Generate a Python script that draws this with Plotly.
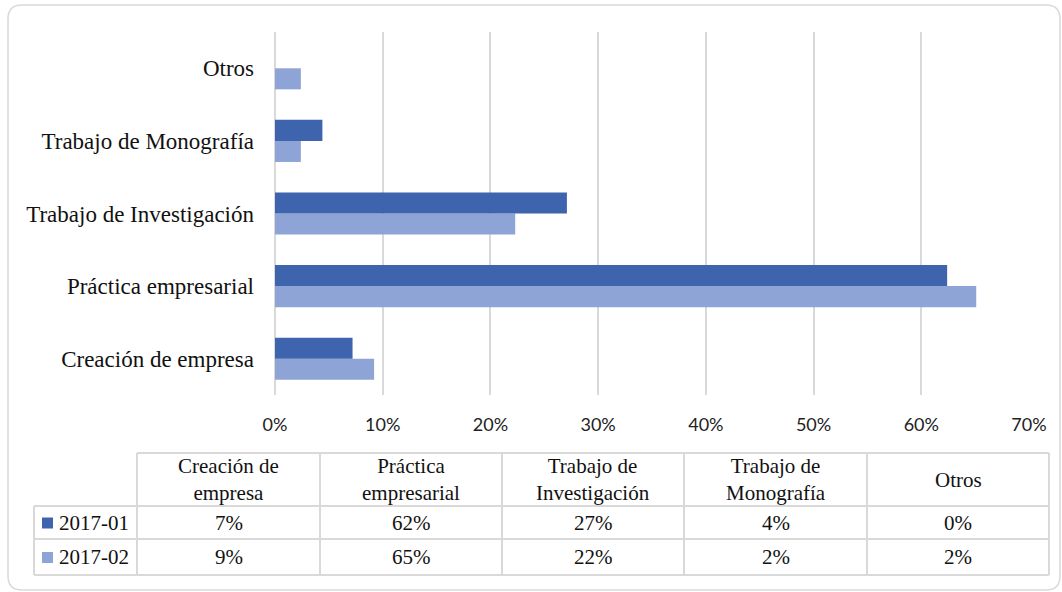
import plotly.graph_objects as go

categories = ["Creación de empresa", "Práctica empresarial", "Trabajo de Investigación",
              "Trabajo de Monografía", "Otros"]
header_labels = ["Creación de<br>empresa", "Práctica<br>empresarial", "Trabajo de<br>Investigación",
                 "Trabajo de<br>Monografía", "Otros"]
series_names = ["2017-01", "2017-02"]
values_2017_01 = [0.072, 0.624, 0.271, 0.044, 0.0]
values_2017_02 = [0.092, 0.651, 0.223, 0.024, 0.024]
tick_vals = [0, 0.1, 0.2, 0.3, 0.4, 0.5, 0.6, 0.7]
tick_text = ["0%", "10%", "20%", "30%", "40%", "50%", "60%", "70%"]

C1 = "#3D64AD"
C2 = "#8FA4D6"
GRID = "#d9d9d9"

W, H = 1062, 592
L, R, T, B = 275, 1029, 32, 395


def px(x):
    return (x - L) / (R - L)


def py(y):
    return (B - y) / (B - T)


fig = go.Figure()
fig.add_trace(go.Bar(y=categories, x=values_2017_02, name=series_names[1], orientation="h",
                     marker=dict(color=C2, line=dict(width=0))))
fig.add_trace(go.Bar(y=categories, x=values_2017_01, name=series_names[0], orientation="h",
                     marker=dict(color=C1, line=dict(width=0))))

shapes = []
annotations = []

# rounded outer border
x0, x1, y0, y1, r = 8, 1060, 5, 590, 14
path = (f"M {px(x0 + r)},{py(y0)} L {px(x1 - r)},{py(y0)} Q {px(x1)},{py(y0)} {px(x1)},{py(y0 + r)} "
        f"L {px(x1)},{py(y1 - r)} Q {px(x1)},{py(y1)} {px(x1 - r)},{py(y1)} "
        f"L {px(x0 + r)},{py(y1)} Q {px(x0)},{py(y1)} {px(x0)},{py(y1 - r)} "
        f"L {px(x0)},{py(y0 + r)} Q {px(x0)},{py(y0)} {px(x0 + r)},{py(y0)} Z")
shapes.append(dict(type="path", xref="paper", yref="paper", path=path,
                   line=dict(color=GRID, width=1.5), layer="below"))

# data table
col_edges = [137, 320, 502, 684, 867, 1049]
leg_x0 = 34
row_edges = [453, 506, 539, 575]
line = dict(color=GRID, width=2)


def hline(xa, xb, y):
    shapes.append(dict(type="line", xref="paper", yref="paper", x0=px(xa), x1=px(xb),
                       y0=py(y), y1=py(y), line=line))


def vline(x, ya, yb):
    shapes.append(dict(type="line", xref="paper", yref="paper", x0=px(x), x1=px(x),
                       y0=py(ya), y1=py(yb), line=line))


hline(col_edges[0], col_edges[-1], row_edges[0])
for yy in row_edges[1:]:
    hline(leg_x0, col_edges[-1], yy)
for xx in col_edges:
    vline(xx, row_edges[0], row_edges[-1])
vline(leg_x0, row_edges[1], row_edges[-1])

serif = "Liberation Serif"
for i, lab in enumerate(header_labels):
    cx = (col_edges[i] + col_edges[i + 1]) / 2
    cy = (row_edges[0] + row_edges[1]) / 2
    annotations.append(dict(x=px(cx), y=py(cy), xref="paper", yref="paper", text=lab,
                            showarrow=False, xanchor="center", yanchor="middle",
                            font=dict(family=serif, size=21, color="#111")))

for ri, (name, vals, col) in enumerate([(series_names[0], values_2017_01, C1),
                                        (series_names[1], values_2017_02, C2)]):
    cy = (row_edges[ri + 1] + row_edges[ri + 2]) / 2
    for i, v in enumerate(vals):
        cx = (col_edges[i] + col_edges[i + 1]) / 2
        annotations.append(dict(x=px(cx), y=py(cy), xref="paper", yref="paper",
                                text=f"{round(v * 100)}%", showarrow=False,
                                xanchor="center", yanchor="middle",
                                font=dict(family=serif, size=21, color="#111")))
    shapes.append(dict(type="rect", xref="paper", yref="paper", x0=px(42), x1=px(53),
                       y0=py(cy - 5), y1=py(cy + 6), fillcolor=col, line=dict(width=0)))
    annotations.append(dict(x=px(57), y=py(cy), xref="paper", yref="paper", text=name,
                            showarrow=False, xanchor="left", yanchor="middle",
                            font=dict(family=serif, size=21, color="#111")))

fig.update_layout(
    width=W, height=H,
    margin=dict(l=L, r=W - R, t=T, b=H - B, pad=0),
    paper_bgcolor="white", plot_bgcolor="white",
    barmode="group", bargap=0.42, bargroupgap=0,
    showlegend=False,
    shapes=shapes, annotations=annotations,
    xaxis=dict(range=[0, 0.7], tickvals=tick_vals, ticktext=tick_text,
               showgrid=True, gridcolor=GRID, gridwidth=1.5,
               zeroline=True, zerolinecolor=GRID, zerolinewidth=1.5,
               showline=False, ticks="", ticklabelstandoff=17,
               tickfont=dict(family="Lato", size=18, color="#222")),
    yaxis=dict(showgrid=False, zeroline=False, showline=False, ticks="",
               ticklabelstandoff=20, categoryorder="array", categoryarray=categories,
               tickfont=dict(family=serif, size=23, color="#111")),
)

fig.write_html("out.html", config={"displayModeBar": False},
               post_script="document.body.style.margin='0';")
